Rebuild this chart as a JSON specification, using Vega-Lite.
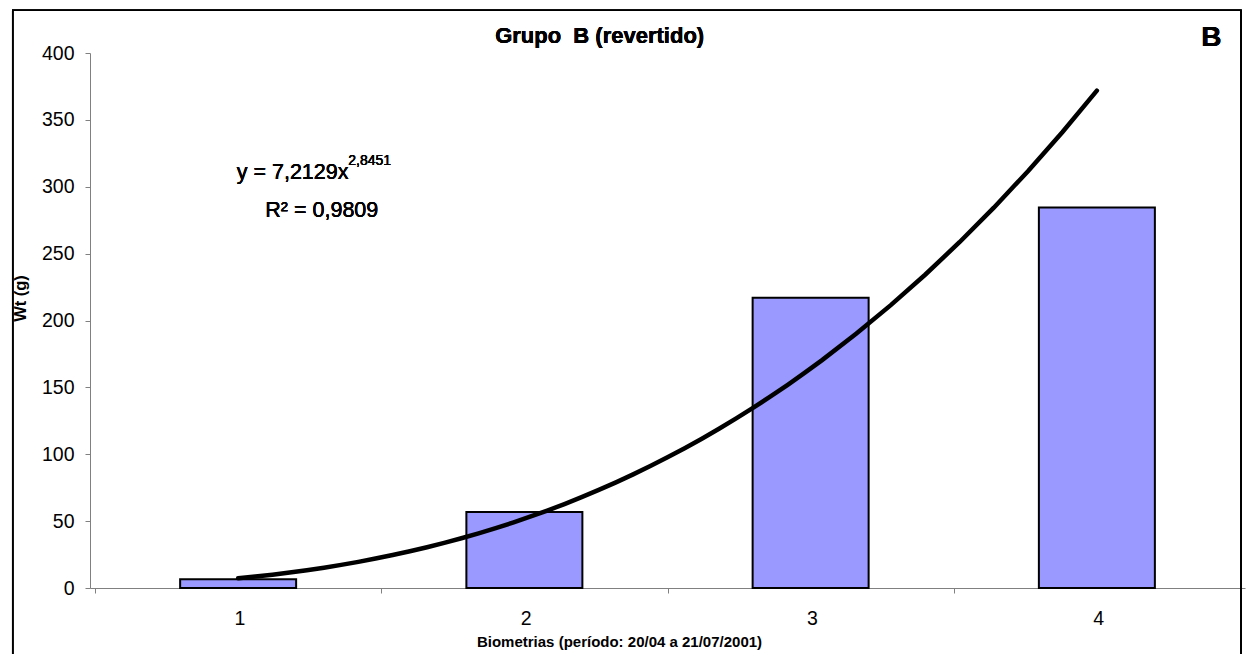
{
  "$schema": "https://vega.github.io/schema/vega-lite/v6.json",
  "autosize": {"type": "none"},
  "width": 1155,
  "height": 535,
  "padding": {"left": 90, "top": 53, "right": 2, "bottom": 66},
  "background": "white",
  "config": {
    "view": {"stroke": null},
    "axis": {"grid": false, "domainColor": "#808080", "tickColor": "#808080", "labelColor": "#000000", "titleColor": "#000000"}
  },
  "data": {
    "values": [
      {"Biometria": 1, "Wt": 6.5},
      {"Biometria": 2, "Wt": 56.8},
      {"Biometria": 3, "Wt": 217.1},
      {"Biometria": 4, "Wt": 284.4}
    ]
  },
  "layer": [
    {
      "mark": {"type": "bar", "width": 116, "fill": "#9999FF", "stroke": "#000000", "strokeWidth": 2},
      "encoding": {
        "x": {
          "field": "Biometria",
          "type": "quantitative",
          "scale": {"domain": [0.5, 4.5], "nice": false, "zero": false},
          "axis": {
            "values": [0.5, 1.5, 2.5, 3.5, 4.5],
            "labelExpr": "datum.value >= 4.5 ? '' : format(datum.value + 0.5, 'd')",
            "labelOffset": 144.4,
            "labelBound": false,
            "labelOverlap": false,
            "labelFlush": false,
            "labelFont": "Liberation Sans",
            "labelFontSize": 19.5,
            "labelBaseline": "alphabetic",
            "labelPadding": 31,
            "tickSize": 5,
            "title": "Biometrias (período: 20/04 a 21/07/2001)",
            "titleFont": "Liberation Sans",
            "titleFontSize": 15,
            "titleFontWeight": "bold",
            "titleBaseline": "alphabetic",
            "titleX": 529,
            "titleY": 58,
            "titleAnchor": null
          }
        },
        "y": {
          "field": "Wt",
          "type": "quantitative",
          "scale": {"domain": [0, 400], "nice": false},
          "axis": {
            "values": [0, 50, 100, 150, 200, 250, 300, 350, 400],
            "labelFont": "Liberation Sans",
            "labelFontSize": 19.5,
            "labelPadding": 11,
            "tickSize": 5,
            "title": "Wt (g)",
            "titleFont": "Liberation Sans",
            "titleFontSize": 16.5,
            "titleFontWeight": "bold",
            "titleX": -62,
            "titleY": 245
          }
        }
      }
    },
    {
      "transform": [{"regression": "Wt", "on": "Biometria", "method": "pow"}],
      "mark": {"type": "line", "color": "#000000", "strokeWidth": 4.5, "strokeCap": "round"},
      "encoding": {
        "x": {"field": "Biometria", "type": "quantitative"},
        "y": {"field": "Wt", "type": "quantitative"}
      }
    },
    {
      "mark": {"type": "rect", "fill": null, "stroke": "#000000", "strokeWidth": 1.5, "clip": false},
      "encoding": {
        "x": {"datum": 0.2126, "type": "quantitative"},
        "x2": {"datum": 4.5035},
        "y": {"datum": 431.9, "type": "quantitative"},
        "y2": {"datum": -60}
      }
    },
    {
      "mark": {"type": "text", "text": "Grupo\u00a0\u00a0B (revertido)", "font": "Liberation Sans", "fontSize": 22, "fontWeight": "bold", "align": "center", "baseline": "alphabetic", "color": "#000000"},
      "encoding": {
        "x": {"datum": 2.263, "type": "quantitative"},
        "y": {"datum": 407.5, "type": "quantitative"}
      }
    },
    {
      "mark": {"type": "text", "text": "y = 7,2129x", "font": "Liberation Sans", "fontSize": 21.5, "align": "left", "baseline": "alphabetic", "color": "#000000"},
      "encoding": {
        "x": {"datum": 0.995, "type": "quantitative"},
        "y": {"datum": 305.6, "type": "quantitative"}
      }
    },
    {
      "mark": {"type": "text", "text": "2,8451", "font": "Liberation Sans", "fontSize": 14, "align": "left", "baseline": "alphabetic", "color": "#000000"},
      "encoding": {
        "x": {"datum": 1.385, "type": "quantitative"},
        "y": {"datum": 316, "type": "quantitative"}
      }
    },
    {
      "mark": {"type": "text", "text": "R² = 0,9809", "font": "Liberation Sans", "fontSize": 21.5, "align": "left", "baseline": "alphabetic", "color": "#000000"},
      "encoding": {
        "x": {"datum": 1.095, "type": "quantitative"},
        "y": {"datum": 277.4, "type": "quantitative"}
      }
    },
    {
      "mark": {"type": "text", "text": "B", "font": "Liberation Sans", "fontSize": 28, "fontWeight": "bold", "align": "left", "baseline": "alphabetic", "color": "#000000"},
      "encoding": {
        "x": {"datum": 4.365, "type": "quantitative"},
        "y": {"datum": 405, "type": "quantitative"}
      }
    }
  ]
}
